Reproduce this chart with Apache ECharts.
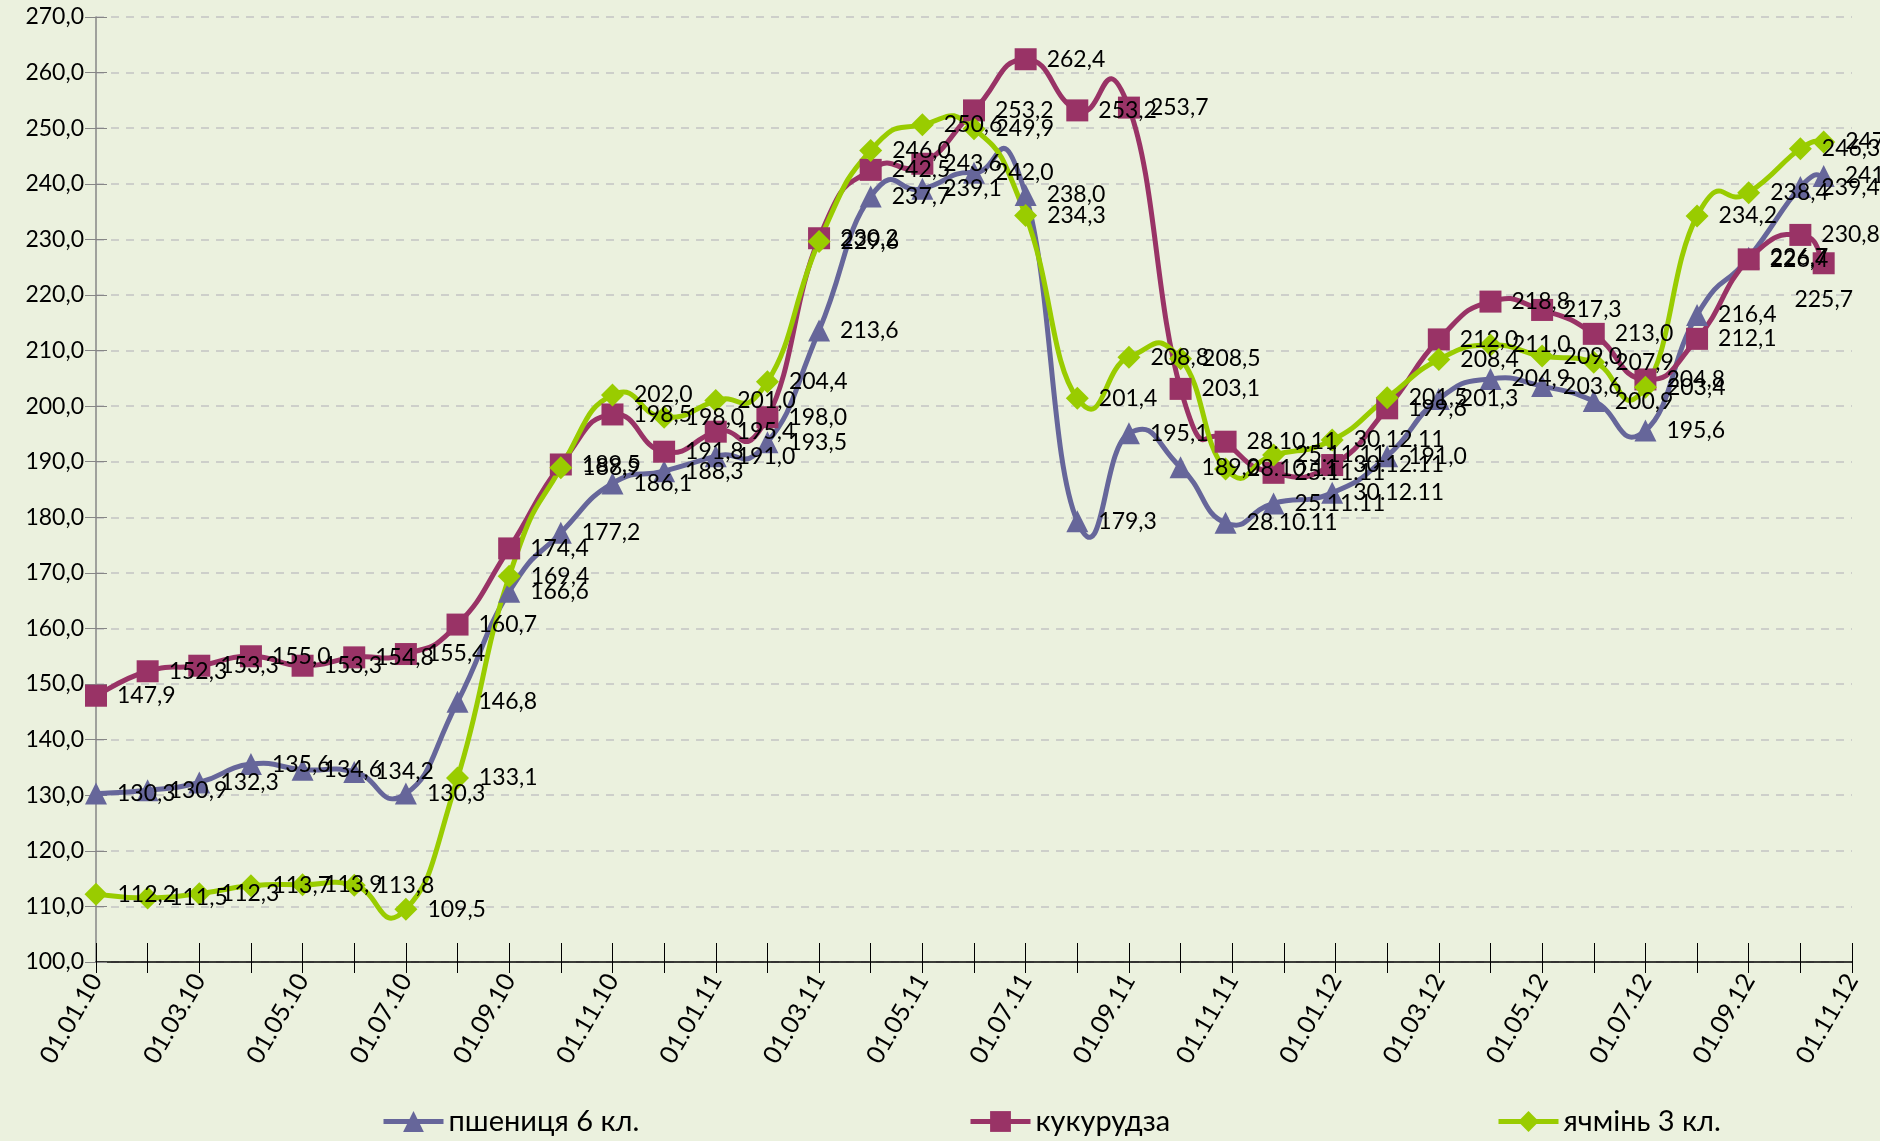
<!DOCTYPE html>
<html>
<head>
<meta charset="utf-8">
<title>Ціни на зернові</title>
<script src="https://cdn.jsdelivr.net/npm/echarts@6/dist/echarts.min.js"></script>
<style>
  html, body { margin: 0; padding: 0; background: #ebf1de; }
  #chart { width: 1880px; height: 1141px; }
</style>
</head>
<body>
<div id="chart"></div>
<script>
// дати спостережень (дд.мм.рр)
var dates = [
  '01.01.10', '01.02.10', '01.03.10', '01.04.10', '01.05.10', '01.06.10',
  '01.07.10', '01.08.10', '01.09.10', '01.10.10', '01.11.10', '01.12.10',
  '01.01.11', '01.02.11', '01.03.11', '01.04.11', '01.05.11', '01.06.11',
  '01.07.11', '01.08.11', '01.09.11', '01.10.11',
  '28.10.11', '25.11.11', '30.12.11',
  '01.02.12', '01.03.12', '01.04.12', '01.05.12', '01.06.12', '01.07.12',
  '01.08.12', '01.09.12', '01.10.12', '15.10.12'
]
// точки, у яких підписом стоїть дата, а не значення
var dateLabelled = ['28.10.11', '25.11.11', '30.12.11']

var wheat = [
  130.3, 130.9, 132.3, 135.6, 134.6, 134.2, 130.3, 146.8, 166.6, 177.2, 186.1, 188.3,
  191.0, 193.5, 213.6, 237.7, 239.1, 242.0, 238.0, 179.3, 195.1, 189.0,
  179.0, 182.5, 184.4,
  191.0, 201.3, 204.9, 203.6, 200.9, 195.6, 216.4, 226.7, 239.4, 241.4
]
var corn = [
  147.9, 152.3, 153.3, 155.0, 153.3, 154.8, 155.4, 160.7, 174.4, 189.5, 198.5, 191.8,
  195.4, 198.0, 230.2, 242.5, 243.6, 253.2, 262.4, 253.2, 253.7, 203.1,
  193.6, 188.0, 189.4,
  199.6, 212.0, 218.8, 217.3, 213.0, 204.8, 212.1, 226.4, 230.8, 225.7
]
var barley = [
  112.2, 111.5, 112.3, 113.7, 113.9, 113.8, 109.5, 133.1, 169.4, 188.9, 202.0, 198.0,
  201.0, 204.4, 229.6, 246.0, 250.6, 249.9, 234.3, 201.4, 208.8, 208.5,
  188.7, 191.2, 193.9,
  201.5, 208.4, 211.0, 209.0, 207.9, 203.4, 234.2, 238.4, 246.3, 247.5
]

// підписи місяців на осі X (кожен тік — перше число місяця)
var tickLabels = [
  '01.01.10', '01.02.10', '01.03.10', '01.04.10', '01.05.10', '01.06.10',
  '01.07.10', '01.08.10', '01.09.10', '01.10.10', '01.11.10', '01.12.10',
  '01.01.11', '01.02.11', '01.03.11', '01.04.11', '01.05.11', '01.06.11',
  '01.07.11', '01.08.11', '01.09.11', '01.10.11', '01.11.11', '01.12.11',
  '01.01.12', '01.02.12', '01.03.12', '01.04.12', '01.05.12', '01.06.12',
  '01.07.12', '01.08.12', '01.09.12', '01.10.12', '01.11.12'
]
var seriesNames = ['пшениця 6 кл.', 'кукурудза', 'ячмінь 3 кл.']
var colors = ['#66669a', '#993366', '#99cc00']

var FONT = 'Lato, "Open Sans", sans-serif'
var SMOOTH = 0.26 // згладжування як в Excel (з перехлестом)

// позиція дати на осі у "місяцях" від 01.01.10
function monthPos(d) {
  var p = d.split('.')
  var day = +p[0]
  var m = +p[1]
  var y = 2000 + (+p[2])
  var dim = new Date(y, m, 0).getDate()
  return (y - 2010) * 12 + (m - 1) + (day - 1) / dim
}
var xPos = dates.map(monthPos)

function fmt(v) {
  return v.toFixed(1).replace('.', ',')
}

// маркери + підписи (сама лінія прозора, її малює makeCurve)
function makeSeries(name, values, symbol, size, color) {
  return {
    name: name,
    type: 'line',
    z: 3,
    symbol: symbol,
    symbolSize: size,
    showAllSymbol: true,
    lineStyle: { width: 5, color: color, opacity: 0 },
    itemStyle: { color: color },
    label: {
      show: true,
      position: 'right',
      distance: 10,
      color: '#000',
      fontSize: 23,
      fontFamily: FONT,
      formatter: function(p) {
        var d = dates[p.dataIndex]
        return dateLabelled.indexOf(d) >= 0 ? d : fmt(values[p.dataIndex])
      }
    },
    data: values.map(function(v, i) {
      return [xPos[i], v]
    })
  }
}

// згладжена крива: сегменти Безьє між сусідніми точками
function makeCurve(values, color) {
  var pts = values.map(function(v, i) {
    return [xPos[i], v]
  })
  var n = pts.length
  return {
    type: 'custom',
    coordinateSystem: 'cartesian2d',
    silent: true,
    z: 2,
    encode: { x: 0, y: 1 },
    data: pts,
    renderItem: function(params, api) {
      var i = params.dataIndex
      if (i >= n - 1) return null
      var p0 = api.coord(pts[Math.max(i - 1, 0)])
      var p1 = api.coord(pts[i])
      var p2 = api.coord(pts[i + 1])
      var p3 = api.coord(pts[Math.min(i + 2, n - 1)])
      return {
        type: 'bezierCurve',
        shape: {
          x1: p1[0], y1: p1[1],
          x2: p2[0], y2: p2[1],
          cpx1: p1[0] + (p2[0] - p0[0]) * SMOOTH,
          cpy1: p1[1] + (p2[1] - p0[1]) * SMOOTH,
          cpx2: p2[0] - (p3[0] - p1[0]) * SMOOTH,
          cpy2: p2[1] - (p3[1] - p1[1]) * SMOOTH
        },
        style: { fill: null, stroke: color, lineWidth: 5, lineCap: 'round' }
      }
    }
  }
}

var series = [
  makeCurve(wheat, colors[0]),
  makeCurve(corn, colors[1]),
  makeCurve(barley, colors[2]),
  makeSeries(seriesNames[0], wheat, 'triangle', 22, colors[0]),
  makeSeries(seriesNames[1], corn, 'rect', 22, colors[1]),
  makeSeries(seriesNames[2], barley, 'diamond', 23, colors[2])
]
// останній підпис кукурудзи винесено під точку
var cornData = series[4].data
cornData[cornData.length - 1] = {
  value: cornData[cornData.length - 1],
  label: { position: 'bottom', distance: 14 }
}

var legendLeft = [381, 968, 1496]

var chart = echarts.init(document.getElementById('chart'))
chart.setOption({
  animation: false,
  backgroundColor: '#ebf1de',
  textStyle: { fontFamily: FONT },
  grid: {
    left: 96,
    right: 28,
    top: 17,
    bottom: 179,
    containLabel: false
  },
  legend: seriesNames.map(function(name, k) {
    return {
      data: [name],
      left: legendLeft[k],
      top: 1107,
      padding: 0,
      itemWidth: 60,
      itemHeight: 26,
      itemGap: 8,
      lineStyle: { width: 5, opacity: 1 },
      textStyle: { fontSize: 29, color: '#000', fontFamily: FONT }
    }
  }),
  xAxis: [
    {
      type: 'value',
      min: 0,
      max: 34,
      interval: 1,
      position: 'bottom',
      axisLine: { onZero: false, lineStyle: { color: '#000', width: 1.5 } },
      axisTick: { length: 11, lineStyle: { color: '#000', width: 1 } },
      axisLabel: {
        rotate: 60,
        margin: 14,
        fontSize: 25,
        color: '#000',
        fontFamily: FONT,
        formatter: function(v) {
          var i = Math.round(v)
          return i % 2 === 0 ? tickLabels[i] : ''
        }
      },
      splitLine: { show: false }
    },
    {
      // верхня половина хрестоподібних тіків
      type: 'value',
      min: 0,
      max: 34,
      interval: 1,
      position: 'bottom',
      axisLine: { show: false },
      axisTick: { inside: true, length: 19, lineStyle: { color: '#000', width: 1 } },
      axisLabel: { show: false },
      splitLine: { show: false }
    }
  ],
  yAxis: [
    {
      type: 'value',
      min: 100,
      max: 270,
      interval: 10,
      axisLine: { show: true, lineStyle: { color: '#868686', width: 1.5 } },
      axisTick: { show: true, length: 11, lineStyle: { color: '#868686' } },
      axisLabel: {
        margin: 12,
        fontSize: 23,
        color: '#000',
        fontFamily: FONT,
        formatter: function(v) {
          return fmt(v)
        }
      },
      splitLine: { lineStyle: { color: '#c4c4c4', width: 1.5, type: [8, 7] } }
    },
    {
      type: 'value',
      min: 100,
      max: 270,
      interval: 10,
      position: 'left',
      axisLine: { show: false },
      axisTick: { show: true, inside: true, length: 11, lineStyle: { color: '#868686' } },
      axisLabel: { show: false },
      splitLine: { show: false }
    }
  ],
  series: series
})
</script>
</body>
</html>
